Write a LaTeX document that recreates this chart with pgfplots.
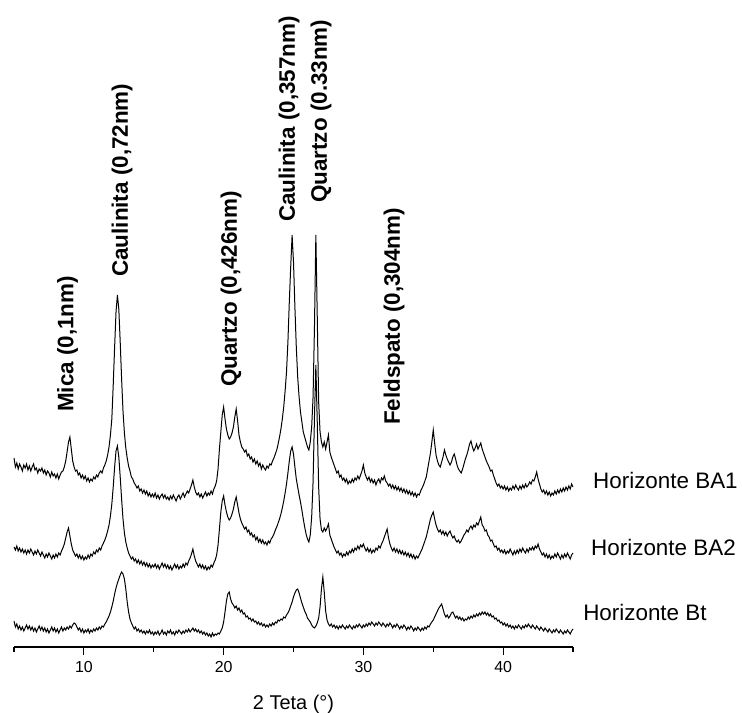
\documentclass[border=0pt]{standalone}
\usepackage{fontspec}
\setmainfont{Liberation Sans}
\usepackage{pgfplots}
\pgfplotsset{compat=1.18}
\begin{document}
\begin{tikzpicture}
\begin{axis}[
  at={(0,0)}, anchor=south west,
  scale only axis, width=559bp, height=647bp,
  xmin=5, xmax=45, ymin=0, ymax=647,
  axis x line*=bottom, axis y line=none,
  axis line style={line width=1.3bp},
  xtick={10,20,30,40}, minor xtick={5,15,25,35,45},
  tick align=outside, major tick length=8bp, minor tick length=5bp,
  every tick/.style={line width=1.1bp, black},
  every tick label/.append style={font=\fontsize{16}{19}\selectfont},
  xticklabel style={yshift=-3bp},
  /pgf/number format/assume math mode=true,
  xlabel={2 Teta (°)},
  xlabel style={font=\fontsize{20}{24}\selectfont, yshift=-15bp},
  clip=false,
]
% Horizonte BA1
\addplot[black, line width=1bp, mark=none] coordinates {
(5.0,189)(5.1,180)(5.2,184)(5.3,178)(5.4,183)(5.5,180)(5.6,176)(5.7,182)(5.8,179)(5.9,183)
(6.0,177)(6.1,181)(6.2,176)(6.3,180)(6.4,183)(6.5,177)(6.6,179)(6.7,174)(6.8,178)(6.9,176)
(7.0,179)(7.1,174)(7.2,177)(7.3,172)(7.4,176)(7.5,174)(7.6,170)(7.7,175)(7.8,171)(7.9,173)
(8.0,169)(8.1,173)(8.2,168)(8.3,172)(8.4,175)(8.5,176)(8.6,180)(8.7,186)(8.8,195)(8.9,205)
(9.0,210)(9.1,198)(9.2,186)(9.3,180)(9.4,176)(9.5,177)(9.6,172)(9.7,174)(9.8,169)(9.9,172)
(10.0,168)(10.1,171)(10.2,166)(10.3,169)(10.4,165)(10.5,168)(10.6,166)(10.7,170)(10.8,168)(10.9,172)
(11.0,170)(11.1,174)(11.2,176)(11.3,174)(11.4,179)(11.5,182)(11.6,186)(11.7,192)(11.8,200)(11.9,212)
(12.0,228)(12.1,262)(12.2,300)(12.3,335)(12.4,352)(12.5,338)(12.6,305)(12.7,268)(12.8,236)(12.9,214)
(13.0,199)(13.1,189)(13.2,181)(13.3,176)(13.4,170)(13.5,168)(13.6,164)(13.7,162)(13.8,159)(13.9,161)
(14.0,156)(14.1,158)(14.2,154)(14.3,157)(14.4,153)(14.5,156)(14.6,151)(14.7,154)(14.8,150)(14.9,153)
(15.0,150)(15.1,154)(15.2,149)(15.3,152)(15.4,148)(15.5,151)(15.6,153)(15.7,149)(15.8,152)(15.9,148)
(16.0,150)(16.1,147)(16.2,151)(16.3,148)(16.4,152)(16.5,149)(16.6,146)(16.7,150)(16.8,152)(16.9,148)
(17.0,151)(17.1,154)(17.2,150)(17.3,153)(17.4,156)(17.5,154)(17.6,158)(17.7,162)(17.8,167)(17.9,160)
(18.0,155)(18.1,152)(18.2,154)(18.3,150)(18.4,153)(18.5,149)(18.6,152)(18.7,155)(18.8,151)(18.9,154)
(19.0,152)(19.1,156)(19.2,153)(19.3,158)(19.4,161)(19.5,166)(19.6,178)(19.7,198)(19.8,215)(19.9,232)
(20.0,240)(20.1,228)(20.2,218)(20.3,212)(20.4,208)(20.5,210)(20.6,214)(20.7,220)(20.8,230)(20.9,238)
(21.0,226)(21.1,212)(21.2,205)(21.3,200)(21.4,198)(21.5,195)(21.6,197)(21.7,191)(21.8,193)(21.9,188)
(22.0,190)(22.1,185)(22.2,188)(22.3,183)(22.4,186)(22.5,181)(22.6,184)(22.7,178)(22.8,182)(22.9,179)
(23.0,177)(23.1,181)(23.2,179)(23.3,183)(23.4,182)(23.5,186)(23.6,189)(23.7,193)(23.8,197)(23.9,203)
(24.0,210)(24.1,218)(24.2,228)(24.3,240)(24.4,256)(24.5,275)(24.6,305)(24.7,345)(24.8,380)(24.9,412)
(25.0,385)(25.1,340)(25.2,300)(25.3,270)(25.4,250)(25.5,235)(25.6,225)(25.7,215)(25.8,210)(25.9,205)
(26.0,200)(26.1,197)(26.2,205)(26.3,220)(26.4,250)(26.5,320)(26.6,412)(26.7,330)(26.8,245)(26.9,215)
(27.0,205)(27.1,200)(27.2,205)(27.3,198)(27.4,205)(27.5,212)(27.6,195)(27.7,190)(27.8,186)(27.9,182)
(28.0,178)(28.1,174)(28.2,176)(28.3,170)(28.4,172)(28.5,167)(28.6,169)(28.7,165)(28.8,168)(28.9,163)
(29.0,166)(29.1,164)(29.2,168)(29.3,165)(29.4,169)(29.5,167)(29.6,171)(29.7,168)(29.8,172)(29.9,176)
(30.0,182)(30.1,174)(30.2,170)(30.3,167)(30.4,170)(30.5,165)(30.6,168)(30.7,164)(30.8,167)(30.9,162)
(31.0,166)(31.1,168)(31.2,164)(31.3,169)(31.4,167)(31.5,171)(31.6,166)(31.7,164)(31.8,161)(31.9,163)
(32.0,159)(32.1,162)(32.2,158)(32.3,161)(32.4,157)(32.5,160)(32.6,156)(32.7,159)(32.8,155)(32.9,158)
(33.0,154)(33.1,157)(33.2,153)(33.3,156)(33.4,152)(33.5,155)(33.6,151)(33.7,154)(33.8,150)(33.9,153)
(34.0,152)(34.1,156)(34.2,159)(34.3,162)(34.4,166)(34.5,170)(34.6,178)(34.7,186)(34.8,194)(34.9,205)
(35.0,217)(35.1,204)(35.2,192)(35.3,186)(35.4,182)(35.5,180)(35.6,185)(35.7,190)(35.8,197)(35.9,192)
(36.0,188)(36.1,185)(36.2,182)(36.3,185)(36.4,190)(36.5,193)(36.6,188)(36.7,182)(36.8,178)(36.9,176)
(37.0,174)(37.1,178)(37.2,183)(37.3,188)(37.4,192)(37.5,197)(37.6,203)(37.7,206)(37.8,200)(37.9,196)
(38.0,199)(38.1,203)(38.2,198)(38.3,201)(38.4,204)(38.5,198)(38.6,194)(38.7,190)(38.8,186)(38.9,183)
(39.0,180)(39.1,176)(39.2,177)(39.3,172)(39.4,168)(39.5,164)(39.6,161)(39.7,163)(39.8,159)(39.9,161)
(40.0,158)(40.1,161)(40.2,157)(40.3,160)(40.4,156)(40.5,159)(40.6,157)(40.7,161)(40.8,158)(40.9,162)
(41.0,159)(41.1,157)(41.2,161)(41.3,158)(41.4,162)(41.5,159)(41.6,163)(41.7,160)(41.8,162)(41.9,165)
(42.0,163)(42.1,167)(42.2,166)(42.3,170)(42.4,175)(42.5,168)(42.6,163)(42.7,158)(42.8,155)(42.9,157)
(43.0,153)(43.1,156)(43.2,152)(43.3,155)(43.4,151)(43.5,154)(43.6,152)(43.7,156)(43.8,153)(43.9,157)
(44.0,154)(44.1,158)(44.2,155)(44.3,159)(44.4,156)(44.5,160)(44.6,157)(44.7,161)(44.8,158)(44.9,163)
(45.0,160)
};
% Horizonte BA2
\addplot[black, line width=1bp, mark=none] coordinates {
(5.0,100)(5.1,97)(5.2,101)(5.3,96)(5.4,99)(5.5,95)(5.6,98)(5.7,94)(5.8,97)(5.9,93)
(6.0,97)(6.1,94)(6.2,98)(6.3,95)(6.4,92)(6.5,96)(6.6,93)(6.7,97)(6.8,94)(6.9,91)
(7.0,95)(7.1,92)(7.2,89)(7.3,93)(7.4,90)(7.5,94)(7.6,91)(7.7,88)(7.8,92)(7.9,89)
(8.0,93)(8.1,90)(8.2,94)(8.3,92)(8.4,96)(8.5,99)(8.6,103)(8.7,109)(8.8,115)(8.9,119)
(9.0,111)(9.1,103)(9.2,97)(9.3,94)(9.4,91)(9.5,93)(9.6,89)(9.7,92)(9.8,88)(9.9,91)
(10.0,87)(10.1,90)(10.2,88)(10.3,92)(10.4,89)(10.5,93)(10.6,91)(10.7,95)(10.8,93)(10.9,97)
(11.0,95)(11.1,99)(11.2,97)(11.3,101)(11.4,104)(11.5,107)(11.6,111)(11.7,116)(11.8,122)(11.9,131)
(12.0,143)(12.1,160)(12.2,180)(12.3,196)(12.4,201)(12.5,190)(12.6,170)(12.7,148)(12.8,128)(12.9,114)
(13.0,105)(13.1,99)(13.2,94)(13.3,91)(13.4,88)(13.5,90)(13.6,86)(13.7,88)(13.8,84)(13.9,87)
(14.0,83)(14.1,86)(14.2,82)(14.3,85)(14.4,81)(14.5,84)(14.6,80)(14.7,83)(14.8,79)(14.9,82)
(15.0,80)(15.1,83)(15.2,79)(15.3,82)(15.4,78)(15.5,81)(15.6,84)(15.7,80)(15.8,83)(15.9,79)
(16.0,82)(16.1,78)(16.2,81)(16.3,77)(16.4,80)(16.5,83)(16.6,79)(16.7,82)(16.8,78)(16.9,81)
(17.0,79)(17.1,83)(17.2,80)(17.3,84)(17.4,82)(17.5,86)(17.6,89)(17.7,93)(17.8,98)(17.9,91)
(18.0,86)(18.1,83)(18.2,80)(18.3,83)(18.4,79)(18.5,82)(18.6,78)(18.7,81)(18.8,77)(18.9,80)
(19.0,78)(19.1,82)(19.2,80)(19.3,84)(19.4,87)(19.5,92)(19.6,102)(19.7,118)(19.8,135)(19.9,146)
(20.0,151)(20.1,142)(20.2,135)(20.3,130)(20.4,127)(20.5,129)(20.6,133)(20.7,138)(20.8,145)(20.9,150)
(21.0,142)(21.1,134)(21.2,128)(21.3,124)(21.4,121)(21.5,118)(21.6,120)(21.7,115)(21.8,117)(21.9,112)
(22.0,114)(22.1,110)(22.2,112)(22.3,107)(22.4,110)(22.5,105)(22.6,108)(22.7,104)(22.8,107)(22.9,103)
(23.0,105)(23.1,102)(23.2,106)(23.3,104)(23.4,108)(23.5,110)(23.6,113)(23.7,117)(23.8,120)(23.9,124)
(24.0,128)(24.1,133)(24.2,139)(24.3,146)(24.4,154)(24.5,163)(24.6,174)(24.7,186)(24.8,196)(24.9,200)
(25.0,193)(25.1,180)(25.2,168)(25.3,160)(25.4,152)(25.5,145)(25.6,137)(25.7,128)(25.8,120)(25.9,113)
(26.0,108)(26.1,105)(26.2,112)(26.3,130)(26.4,165)(26.5,230)(26.6,282)(26.7,225)(26.8,160)(26.9,128)
(27.0,117)(27.1,115)(27.2,119)(27.3,116)(27.4,119)(27.5,123)(27.6,112)(27.7,108)(27.8,104)(27.9,100)
(28.0,97)(28.1,94)(28.2,96)(28.3,92)(28.4,94)(28.5,90)(28.6,93)(28.7,91)(28.8,95)(28.9,92)
(29.0,96)(29.1,94)(29.2,98)(29.3,95)(29.4,99)(29.5,97)(29.6,101)(29.7,98)(29.8,102)(29.9,100)
(30.0,103)(30.1,99)(30.2,96)(30.3,99)(30.4,95)(30.5,98)(30.6,94)(30.7,97)(30.8,95)(30.9,99)
(31.0,97)(31.1,101)(31.2,99)(31.3,103)(31.4,106)(31.5,110)(31.6,114)(31.7,118)(31.8,109)(31.9,103)
(32.0,99)(32.1,96)(32.2,99)(32.3,95)(32.4,98)(32.5,94)(32.6,97)(32.7,93)(32.8,96)(32.9,92)
(33.0,95)(33.1,91)(33.2,94)(33.3,90)(33.4,93)(33.5,89)(33.6,92)(33.7,88)(33.8,91)(33.9,89)
(34.0,92)(34.1,95)(34.2,98)(34.3,102)(34.4,106)(34.5,110)(34.6,116)(34.7,122)(34.8,128)(34.9,132)
(35.0,135)(35.1,128)(35.2,122)(35.3,118)(35.4,115)(35.5,117)(35.6,113)(35.7,116)(35.8,112)(35.9,115)
(36.0,111)(36.1,114)(36.2,116)(36.3,112)(36.4,109)(36.5,111)(36.6,107)(36.7,105)(36.8,107)(36.9,104)
(37.0,106)(37.1,109)(37.2,112)(37.3,114)(37.4,117)(37.5,115)(37.6,119)(37.7,121)(37.8,118)(37.9,122)
(38.0,120)(38.1,124)(38.2,122)(38.3,126)(38.4,130)(38.5,122)(38.6,120)(38.7,116)(38.8,117)(38.9,112)
(39.0,110)(39.1,106)(39.2,107)(39.3,103)(39.4,100)(39.5,101)(39.6,97)(39.7,99)(39.8,95)(39.9,97)
(40.0,94)(40.1,97)(40.2,93)(40.3,96)(40.4,94)(40.5,98)(40.6,95)(40.7,92)(40.8,96)(40.9,93)
(41.0,97)(41.1,94)(41.2,98)(41.3,95)(41.4,99)(41.5,96)(41.6,94)(41.7,98)(41.8,95)(41.9,99)
(42.0,97)(42.1,100)(42.2,97)(42.3,101)(42.4,99)(42.5,103)(42.6,98)(42.7,95)(42.8,92)(42.9,94)
(43.0,90)(43.1,93)(43.2,89)(43.3,92)(43.4,88)(43.5,91)(43.6,89)(43.7,93)(43.8,90)(43.9,94)
(44.0,91)(44.1,88)(44.2,92)(44.3,89)(44.4,93)(44.5,90)(44.6,94)(44.7,91)(44.8,88)(44.9,92)
(45.0,94)
};
% Horizonte Bt
\addplot[black, line width=1bp, mark=none] coordinates {
(5.0,26)(5.1,20)(5.2,23)(5.3,18)(5.4,21)(5.5,17)(5.6,20)(5.7,16)(5.8,19)(5.9,22)
(6.0,18)(6.1,21)(6.2,17)(6.3,20)(6.4,16)(6.5,19)(6.6,15)(6.7,18)(6.8,21)(6.9,17)
(7.0,20)(7.1,16)(7.2,19)(7.3,15)(7.4,18)(7.5,14)(7.6,17)(7.7,20)(7.8,16)(7.9,19)
(8.0,15)(8.1,18)(8.2,14)(8.3,17)(8.4,20)(8.5,16)(8.6,19)(8.7,17)(8.8,20)(8.9,18)
(9.0,21)(9.1,19)(9.2,22)(9.3,24)(9.4,23)(9.5,20)(9.6,17)(9.7,19)(9.8,15)(9.9,18)
(10.0,14)(10.1,17)(10.2,15)(10.3,18)(10.4,14)(10.5,17)(10.6,15)(10.7,18)(10.8,16)(10.9,19)
(11.0,17)(11.1,20)(11.2,18)(11.3,21)(11.4,20)(11.5,23)(11.6,25)(11.7,28)(11.8,31)(11.9,35)
(12.0,40)(12.1,46)(12.2,53)(12.3,59)(12.4,64)(12.5,68)(12.6,72)(12.7,75)(12.8,73)(12.9,68)
(13.0,58)(13.1,45)(13.2,35)(13.3,28)(13.4,24)(13.5,21)(13.6,18)(13.7,20)(13.8,16)(13.9,18)
(14.0,15)(14.1,17)(14.2,14)(14.3,16)(14.4,13)(14.5,16)(14.6,14)(14.7,17)(14.8,13)(14.9,15)
(15.0,12)(15.1,15)(15.2,13)(15.3,16)(15.4,12)(15.5,14)(15.6,17)(15.7,13)(15.8,15)(15.9,12)
(16.0,16)(16.1,14)(16.2,17)(16.3,13)(16.4,15)(16.5,12)(16.6,16)(16.7,14)(16.8,17)(16.9,15)
(17.0,13)(17.1,16)(17.2,14)(17.3,17)(17.4,15)(17.5,18)(17.6,15)(17.7,17)(17.8,19)(17.9,16)
(18.0,18)(18.1,15)(18.2,17)(18.3,14)(18.4,16)(18.5,13)(18.6,15)(18.7,12)(18.8,14)(18.9,11)
(19.0,13)(19.1,10)(19.2,14)(19.3,11)(19.4,13)(19.5,12)(19.6,14)(19.7,13)(19.8,16)(19.9,19)
(20.0,25)(20.1,35)(20.2,46)(20.3,53)(20.4,55)(20.5,48)(20.6,44)(20.7,42)(20.8,39)(20.9,41)
(21.0,37)(21.1,39)(21.2,35)(21.3,37)(21.4,33)(21.5,34)(21.6,30)(21.7,31)(21.8,28)(21.9,29)
(22.0,26)(22.1,28)(22.2,25)(22.3,26)(22.4,23)(22.5,25)(22.6,22)(22.7,24)(22.8,21)(22.9,23)
(23.0,20)(23.1,22)(23.2,20)(23.3,23)(23.4,21)(23.5,24)(23.6,22)(23.7,25)(23.8,24)(23.9,27)
(24.0,26)(24.1,28)(24.2,27)(24.3,30)(24.4,29)(24.5,32)(24.6,34)(24.7,37)(24.8,41)(24.9,45)
(25.0,50)(25.1,54)(25.2,57)(25.3,58)(25.4,54)(25.5,49)(25.6,44)(25.7,40)(25.8,36)(25.9,33)
(26.0,29)(26.1,27)(26.2,25)(26.3,22)(26.4,20)(26.5,19)(26.6,21)(26.7,24)(26.8,29)(26.9,40)
(27.0,58)(27.1,70)(27.2,55)(27.3,36)(27.4,27)(27.5,23)(27.6,21)(27.7,23)(27.8,20)(27.9,22)
(28.0,19)(28.1,21)(28.2,18)(28.3,21)(28.4,19)(28.5,22)(28.6,20)(28.7,18)(28.8,21)(28.9,19)
(29.0,22)(29.1,20)(29.2,18)(29.3,21)(29.4,19)(29.5,22)(29.6,20)(29.7,23)(29.8,21)(29.9,19)
(30.0,22)(30.1,20)(30.2,23)(30.3,21)(30.4,24)(30.5,22)(30.6,25)(30.7,23)(30.8,21)(30.9,24)
(31.0,22)(31.1,25)(31.2,23)(31.3,21)(31.4,24)(31.5,22)(31.6,20)(31.7,23)(31.8,21)(31.9,24)
(32.0,22)(32.1,19)(32.2,22)(32.3,20)(32.4,23)(32.5,21)(32.6,18)(32.7,21)(32.8,19)(32.9,22)
(33.0,20)(33.1,17)(33.2,20)(33.3,18)(33.4,21)(33.5,19)(33.6,16)(33.7,19)(33.8,17)(33.9,20)
(34.0,18)(34.1,16)(34.2,19)(34.3,17)(34.4,20)(34.5,18)(34.6,21)(34.7,20)(34.8,23)(34.9,25)
(35.0,27)(35.1,30)(35.2,33)(35.3,36)(35.4,39)(35.5,41)(35.6,43)(35.7,38)(35.8,33)(35.9,30)
(36.0,32)(36.1,29)(36.2,31)(36.3,34)(36.4,35)(36.5,32)(36.6,29)(36.7,31)(36.8,28)(36.9,30)
(37.0,27)(37.1,29)(37.2,26)(37.3,28)(37.4,27)(37.5,30)(37.6,28)(37.7,31)(37.8,29)(37.9,32)
(38.0,30)(38.1,33)(38.2,31)(38.3,34)(38.4,32)(38.5,35)(38.6,33)(38.7,35)(38.8,32)(38.9,34)
(39.0,31)(39.1,33)(39.2,30)(39.3,31)(39.4,28)(39.5,29)(39.6,26)(39.7,27)(39.8,24)(39.9,25)
(40.0,22)(40.1,24)(40.2,21)(40.3,23)(40.4,20)(40.5,22)(40.6,19)(40.7,21)(40.8,18)(40.9,21)
(41.0,19)(41.1,22)(41.2,20)(41.3,18)(41.4,21)(41.5,19)(41.6,22)(41.7,20)(41.8,23)(41.9,21)
(42.0,19)(42.1,22)(42.2,20)(42.3,18)(42.4,21)(42.5,19)(42.6,17)(42.7,20)(42.8,18)(42.9,16)
(43.0,19)(43.1,17)(43.2,15)(43.3,18)(43.4,16)(43.5,14)(43.6,17)(43.7,15)(43.8,18)(43.9,16)
(44.0,14)(44.1,17)(44.2,15)(44.3,13)(44.4,16)(44.5,14)(44.6,17)(44.7,15)(44.8,13)(44.9,16)
(45.0,18)
};
% peak labels
\begin{scope}[every node/.style={rotate=90, anchor=west, inner sep=0pt, font=\bfseries\fontsize{22.5}{27}\selectfont}]
\node at (axis cs:8.83,235) {Mica (0,1nm)};
\node at (axis cs:12.73,370) {Caulinita (0,72nm)};
\node at (axis cs:20.53,260) {Quartzo (0,426nm)};
\node at (axis cs:24.68,425) {Caulinita (0,357nm)};
\node at (axis cs:26.97,444) {Quartzo (0.33nm)};
\node at (axis cs:32.19,222) {Feldspato (0,304nm)};
\end{scope}
% series labels
\begin{scope}[every node/.style={anchor=west, inner sep=0pt, font=\fontsize{22.5}{27}\selectfont}]
\node at (axis cs:46.43,167) {Horizonte BA1};
\node at (axis cs:46.29,100) {Horizonte BA2};
\node at (axis cs:45.72,35) {Horizonte Bt};
\end{scope}
\end{axis}
\pgfresetboundingbox
\path (-14bp,-66bp) rectangle (728bp,647bp);
\end{tikzpicture}
\end{document}
